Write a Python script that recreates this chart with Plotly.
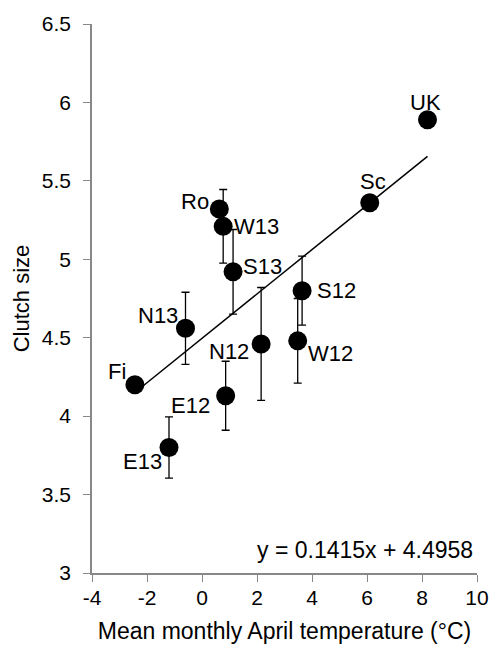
import plotly.graph_objects as go

labels = ["UK", "Sc", "Ro", "W13", "S13", "S12", "N13", "N12", "W12", "Fi", "E12", "E13"]
temp = [8.2, 6.1, 0.63, 0.77, 1.13, 3.64, -0.6, 2.15, 3.48, -2.44, 0.86, -1.2]
clutch = [5.89, 5.36, 5.32, 5.21, 4.92, 4.80, 4.56, 4.46, 4.48, 4.20, 4.13, 3.80]
err = [0, 0, 0, 0.235, 0.27, 0.22, 0.23, 0.36, 0.27, 0, 0.22, 0.195]
slope = 0.1415
intercept = 4.4958
x_ticks = [-4, -2, 0, 2, 4, 6, 8, 10]
x_ticktext = ["-4", "-2", "0", "2", "4", "6", "8", "10"]
y_ticks = [3, 3.5, 4, 4.5, 5, 5.5, 6, 6.5]
y_ticktext = ["3", "3.5", "4", "4.5", "5", "5.5", "6", "6.5"]

# label offsets in px (styling)
offsets = {"UK": (-2, 17), "Sc": (3, 21), "Ro": (-24, 8), "W13": (33, 0),
           "S13": (29, 5), "S12": (34, 0), "N13": (-28, 13), "N12": (-32, -8),
           "W12": (33, -13), "Fi": (-18, 13), "E12": (-35, -10), "E13": (-27, -14)}

font = "Liberation Sans, Arial, sans-serif"
fig = go.Figure()

xl = [min(temp), max(temp)]
fig.add_trace(go.Scatter(x=xl, y=[slope * v + intercept for v in xl], mode="lines",
                         line=dict(color="black", width=1.5), hoverinfo="skip"))

fig.add_trace(go.Scatter(
    x=temp, y=clutch, mode="markers",
    marker=dict(color="black", size=19),
    error_y=dict(type="data", array=err, visible=True, color="black", thickness=1.3, width=4),
))

for lab, xv, yv in zip(labels, temp, clutch):
    dx, dy = offsets[lab]
    fig.add_annotation(x=xv, y=yv, text=lab, showarrow=False, xshift=dx, yshift=dy,
                       font=dict(size=22, color="black", family=font))

fig.add_annotation(x=1, y=0, xref="paper", yref="paper", xanchor="right", yanchor="middle",
                   text=f"y = {slope}x + {intercept}", showarrow=False, xshift=-2, yshift=23,
                   font=dict(size=23, color="black", family=font))

axis_common = dict(showgrid=False, zeroline=False, showline=True, linecolor="#888888",
                   linewidth=1.5, ticks="outside", ticklen=7, tickcolor="#888888",
                   ticklabeloverflow="allow", automargin=False,
                   tickfont=dict(size=21, color="black", family=font))
fig.update_xaxes(range=[-4, 10], tickvals=x_ticks, ticktext=x_ticktext, ticklabelstandoff=-2,
                 title=dict(text="Mean monthly April temperature (°C)", font=dict(size=23, color="black", family=font), standoff=15),
                 **axis_common)
fig.update_yaxes(range=[3, 6.5], tickvals=y_ticks, ticktext=y_ticktext, ticklabelstandoff=8,
                 title=dict(text="Clutch size", font=dict(size=22, color="black", family=font), standoff=6),
                 **axis_common)

fig.update_layout(width=492, height=646, margin=dict(l=92, r=15, t=24, b=73),
                  plot_bgcolor="white", paper_bgcolor="white", showlegend=False)

fig.write_html("out.html", config={"displayModeBar": False},
               post_script="document.body.style.margin='0px';")
